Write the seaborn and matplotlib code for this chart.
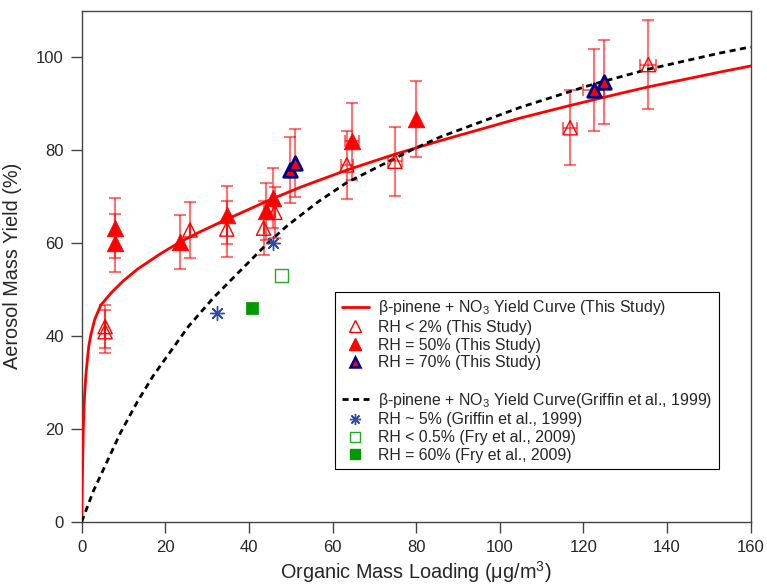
import numpy as np
import pandas as pd
import seaborn as sns
import matplotlib
matplotlib.use('Agg')
import matplotlib.pyplot as plt
from matplotlib.lines import Line2D

# yield curves (organic mass loading, yield %)
fit_m = [0, 0.12, 0.24, 0.4, 0.55, 0.72, 1.0, 1.36, 1.7, 2.16, 3.1, 4.56, 7.1, 9.9, 13.4,
         18.7, 23.5, 28.3, 34.7, 45.8, 52.6, 63.4, 74.9, 85.7, 104.9, 116.8, 128.8, 135.5,
         152.7, 160]
fit_y = [0, 7.0, 13.3, 20.5, 24.5, 27.7, 31.5, 34.9, 37.8, 40.1, 43.5, 46.6, 49.3, 51.8, 54.4,
         57.6, 60.2, 62.4, 65.1, 69.6, 72.1, 75.7, 79.1, 82.0, 86.9, 89.6, 92.2, 93.6,
         96.8, 98.1]
grif_m = [0, 2.8, 9.2, 13.3, 17.1, 25.5, 31.5, 44.3, 49.0, 56.6, 63.4, 79.3, 85.7, 104.9,
          122.4, 135.5, 152.7, 160]
grif_y = [0, 6.6, 19.0, 25.8, 31.4, 42.0, 48.2, 59.8, 63.6, 68.9, 73.0, 80.2, 82.8, 89.2,
          94.2, 97.4, 100.9, 102.2]

# this study
dry_m = [5.6, 5.6, 25.9, 34.7, 43.5, 46.2, 63.4, 74.9, 116.8, 135.5]
dry_y = [42.0, 40.9, 62.8, 63.0, 63.2, 66.6, 76.8, 77.6, 84.8, 98.4]
dry_yerr = [4.7, 4.6, 6.0, 6.0, 5.8, 5.5, 7.3, 7.4, 8.1, 9.5]
dry_xerr = [0, 0, 0, 0, 0, 0, 1.5, 1.6, 1.7, 1.9]

rh50_m = [7.95, 7.95, 23.5, 34.7, 44.0, 45.8, 64.6, 79.9]
rh50_y = [63.2, 60.0, 60.3, 66.0, 66.8, 69.7, 81.9, 86.6]
rh50_yerr = [6.5, 6.3, 5.8, 6.3, 6.2, 6.4, 8.3, 8.2]
rh50_xerr = [0, 0, 0, 0, 0, 0, 1.7, 0]

rh70_m = [49.7, 50.9, 122.4, 125.0]
rh70_y = [75.8, 77.2, 93.0, 94.7]
rh70_yerr = [7.1, 7.3, 8.8, 9.0]
rh70_xerr = [0, 0, 2.4, 0]

# literature
griffin_m = [32.3, 45.8]
griffin_y = [45.0, 60.0]
fry_dry_m = [47.8]
fry_dry_y = [53.0]
fry_wet_m = [40.8]
fry_wet_y = [46.1]

sns.set_theme(style='ticks')
plt.rcParams['font.family'] = ['Liberation Sans', 'DejaVu Sans']
plt.rcParams['mathtext.default'] = 'regular'

fig = plt.figure(figsize=(7.67, 5.88), dpi=100)
ax = fig.add_axes([0.1065, 0.1128, 0.8723, 0.869])

red = '#ff0000'
ebar = (1, 0, 0, 0.55)

sns.lineplot(x=fit_m, y=fit_y, ax=ax, color=red, lw=2.0, sort=False, zorder=3)
sns.lineplot(x=grif_m, y=grif_y, ax=ax, color='black', lw=2.0, sort=False, zorder=3,
             dashes=False, linestyle=(0, (2.2, 1.6)))

for mx, my, xe, ye in [(dry_m, dry_y, dry_xerr, dry_yerr),
                       (rh50_m, rh50_y, rh50_xerr, rh50_yerr),
                       (rh70_m, rh70_y, rh70_xerr, rh70_yerr)]:
    ax.errorbar(mx, my, yerr=ye, xerr=xe, fmt='none', ecolor=ebar, elinewidth=1.5,
                capsize=4.5, capthick=1.5, zorder=2)

sns.scatterplot(x=dry_m, y=dry_y, ax=ax, marker='^', s=105, color=red,
                facecolor='none', edgecolor=red, linewidth=1.0, zorder=4)
sns.scatterplot(x=rh50_m, y=rh50_y, ax=ax, marker='^', s=144, color=red,
                edgecolor=red, linewidth=0.5, zorder=4)
sns.scatterplot(x=rh70_m, y=rh70_y, ax=ax, marker='^', s=95, color=red,
                edgecolor='#000088', linewidth=2.0, zorder=5)
sns.scatterplot(x=griffin_m, y=griffin_y, ax=ax, marker=(8, 2, 0), s=100,
                color='#2a4db0', linewidth=1.0, zorder=4)
sns.scatterplot(x=fry_dry_m, y=fry_dry_y, ax=ax, marker='s', s=85, color='#22aa22',
                facecolor='none', edgecolor='#22aa22', linewidth=1.0, zorder=4)
sns.scatterplot(x=fry_wet_m, y=fry_wet_y, ax=ax, marker='s', s=85, color='#009900',
                edgecolor='#009900', linewidth=0.5, zorder=4)

ax.set_xlim(0, 160)
ax.set_ylim(0, 110)
ax.set_xticks(np.arange(0, 161, 20))
ax.set_yticks(np.arange(0, 101, 20))
for sp in ax.spines.values():
    sp.set_color('#444444')
    sp.set_linewidth(1.0)
ax.tick_params(direction='out', length=8, width=1.0, color='#444444',
               labelsize=12, pad=5)
ax.set_xlabel('Organic Mass Loading (μg/m$^3$)', fontsize=14.3, labelpad=3)
ax.set_ylabel('Aerosol Mass Yield (%)', fontsize=14.3, labelpad=10)

handles = [
    Line2D([], [], color=red, lw=2.0),
    Line2D([], [], ls='none', marker='^', ms=8, mfc='none', mec=red, mew=1.0),
    Line2D([], [], ls='none', marker='^', ms=8, mfc=red, mec=red),
    Line2D([], [], ls='none', marker='^', ms=7, mfc=red, mec='#000088', mew=1.8),
    Line2D([], [], ls='none'),
    Line2D([], [], color='black', lw=2.0, ls=(0, (2.2, 1.6))),
    Line2D([], [], ls='none', marker=(8, 2, 0), ms=8, color='#2a4db0', mew=1.0),
    Line2D([], [], ls='none', marker='s', ms=7, mfc='none', mec='#22aa22', mew=1.0),
    Line2D([], [], ls='none', marker='s', ms=7, mfc='#009900', mec='#009900'),
]
labels = [
    'β-pinene + NO$_3$ Yield Curve (This Study)',
    'RH < 2% (This Study)',
    'RH = 50% (This Study)',
    'RH = 70% (This Study)',
    ' ',
    'β-pinene + NO$_3$ Yield Curve(Griffin et al., 1999)',
    'RH ~ 5% (Griffin et al., 1999)',
    'RH < 0.5% (Fry et al., 2009)',
    'RH = 60% (Fry et al., 2009)',
]
leg = ax.legend(handles, labels, loc='upper left', bbox_to_anchor=(0.379, 0.4495),
                fontsize=11.4, frameon=True, fancybox=False, framealpha=1,
                edgecolor='black', borderpad=0.4, labelspacing=0.17,
                handlelength=1.7, handletextpad=0.6, borderaxespad=0)
leg.get_frame().set_linewidth(0.8)

fig.savefig('out.png', dpi=100)
